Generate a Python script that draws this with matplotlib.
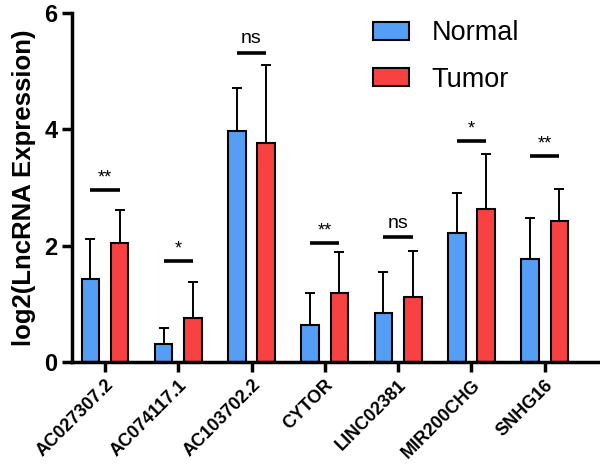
import numpy as np
import matplotlib.pyplot as plt

genes = ['AC027307.2', 'AC074117.1', 'AC103702.2', 'CYTOR', 'LINC02381', 'MIR200CHG', 'SNHG16']
normal = [1.43, 0.31, 3.97, 0.63, 0.85, 2.21, 1.77]
normal_err = [0.68, 0.28, 0.74, 0.55, 0.70, 0.69, 0.70]
tumor = [2.05, 0.76, 3.77, 1.19, 1.11, 2.63, 2.43]
tumor_err = [0.56, 0.61, 1.33, 0.70, 0.80, 0.94, 0.55]
sig_labels = ['**', '*', 'ns', '**', 'ns', '*', '**']
sig_y = [2.96, 1.73, 5.31, 2.04, 2.14, 3.80, 3.54]

plt.rcParams['font.family'] = ['Liberation Sans', 'DejaVu Sans']

fig = plt.figure(figsize=(6, 4.76), dpi=100)
ax = fig.add_axes([0.12, 0.2395, 0.877, 0.7335])

x = np.arange(len(genes))
off = 0.2
w = 0.24
ax.bar(x - off, normal, w, color='#549ff5', edgecolor='black', linewidth=1.5, label='Normal', zorder=2)
ax.bar(x + off, tumor, w, color='#f84242', edgecolor='black', linewidth=1.5, label='Tumor', zorder=2)
ax.errorbar(x - off, normal, yerr=[np.zeros(len(x)), normal_err], fmt='none', ecolor='black',
            elinewidth=1.4, capsize=3.3, capthick=1.4, zorder=1)
ax.errorbar(x + off, tumor, yerr=[np.zeros(len(x)), tumor_err], fmt='none', ecolor='black',
            elinewidth=1.4, capsize=3.3, capthick=1.4, zorder=1)

for i in range(len(genes)):
    ax.plot([x[i] - off, x[i] + off], [sig_y[i], sig_y[i]], color='black', lw=2.6, solid_capstyle='butt')
    if sig_labels[i] == 'ns':
        ax.text(x[i], sig_y[i] + 0.1, 'ns', ha='center', va='bottom', fontsize=14)
    else:
        ax.text(x[i], sig_y[i] + 0.06, sig_labels[i], ha='center', va='bottom', fontsize=13)

ax.set_xlim(-0.45, 6.73)
ax.set_ylim(0, 6)
ax.set_yticks([0, 2, 4, 6])
ax.set_xticks(x)
ax.set_xticklabels(genes, rotation=45, ha='right', rotation_mode='anchor', fontsize=13, fontweight='bold')
for lab in ax.get_yticklabels():
    lab.set_fontsize(17)
    lab.set_fontweight('bold')
ax.set_ylabel('log2(LncRNA Expression)', fontsize=18.5, fontweight='bold', labelpad=6)

for s in ['top', 'right']:
    ax.spines[s].set_visible(False)
for s in ['left', 'bottom']:
    ax.spines[s].set_linewidth(2.5)
ax.tick_params(axis='both', width=2.5, length=7, direction='out')

ax.legend(loc='upper left', bbox_to_anchor=(0.525, 1.048), frameon=False, fontsize=19.5,
          handlelength=1.33, handleheight=0.67, labelspacing=0.75, handletextpad=0.85)

fig.savefig('out.png', dpi=100)
